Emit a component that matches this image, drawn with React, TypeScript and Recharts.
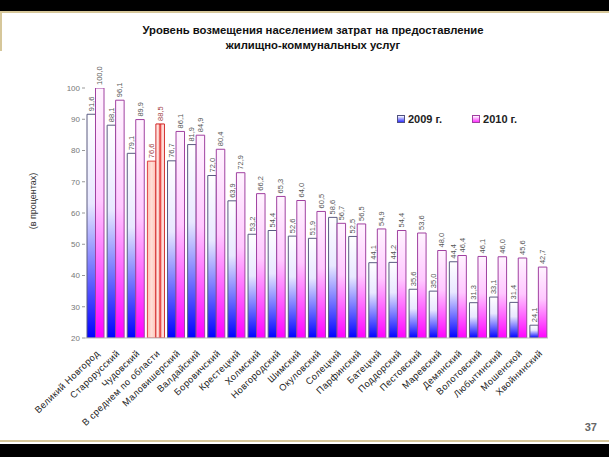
import React from "react";
import { BarChart, Bar, XAxis, YAxis, Cell, LabelList } from "recharts";

const categories = [
  "Великий Новгород",
  "Старорусский",
  "Чудовский",
  "В среднем по области",
  "Маловишерский",
  "Валдайский",
  "Боровичский",
  "Крестецкий",
  "Холмский",
  "Новгородский",
  "Шимский",
  "Окуловский",
  "Солецкий",
  "Парфинский",
  "Батецкий",
  "Поддорский",
  "Пестовский",
  "Маревский",
  "Демянский",
  "Волотовский",
  "Любытинский",
  "Мошенской",
  "Хвойнинский",
];

const values2009 = [
  91.6, 88.1, 79.1, 76.6, 76.7, 81.9, 72.0, 63.9, 53.2, 54.4, 52.6, 51.9, 58.6,
  52.5, 44.1, 44.2, 35.6, 35.0, 44.4, 31.3, 33.1, 31.4, 24.1,
];

const values2010 = [
  100.0, 96.1, 89.9, 88.5, 86.1, 84.9, 80.4, 72.9, 66.2, 65.3, 64.0, 60.5, 56.7,
  56.5, 54.9, 54.4, 53.6, 48.0, 46.4, 46.1, 46.0, 45.6, 42.7,
];

const yTicks = [20, 30, 40, 50, 60, 70, 80, 90, 100];

const AVG_INDEX = 3;
const FONT = "'Liberation Sans', Arial, sans-serif";

const data = categories.map((name, i) => ({
  name,
  v2009: values2009[i],
  v2010: values2010[i],
}));

const fmt = (v: number) => v.toFixed(1).replace(".", ",");

function ValueLabel(props: any) {
  const { x, y, width, value, index } = props;
  const cx = x + width / 2;
  const ty = y - 3;
  return (
    <text
      x={cx}
      y={ty}
      transform={`rotate(-90 ${cx} ${ty})`}
      textAnchor="start"
      dominantBaseline="central"
      fontSize={7.5}
      fontFamily={FONT}
      fill={index === AVG_INDEX ? "#a04040" : "#555"}
    >
      {fmt(value)}
    </text>
  );
}

function CategoryTick(props: any) {
  const { x, y, payload } = props;
  const ty = y + 6;
  return (
    <text
      x={x + 3}
      y={ty}
      transform={`rotate(-44 ${x + 3} ${ty})`}
      textAnchor="end"
      dominantBaseline="central"
      fontSize={9.3}
      letterSpacing={0.4}
      fontFamily={FONT}
      fill="#222"
    >
      {payload.value}
    </text>
  );
}

function LegendBox() {
  const item = (label: string, grad: string, border: string) => (
    <span
      style={{
        display: "inline-flex",
        alignItems: "center",
        gap: 3,
        marginRight: 30,
      }}
    >
      <span
        style={{
          display: "inline-block",
          width: 6,
          height: 6,
          background: grad,
          border: `1px solid ${border}`,
        }}
      />
      <span style={{ fontWeight: "bold", fontSize: 11, color: "#222" }}>
        {label}
      </span>
    </span>
  );
  return (
    <div
      style={{
        position: "absolute",
        left: 397,
        top: 113,
        display: "flex",
        fontFamily: FONT,
      }}
    >
      {item("2009 г.", "linear-gradient(#fff, #3030ff)", "#505080")}
      {item("2010 г.", "linear-gradient(#fff, #ff30ff)", "#a040a0")}
    </div>
  );
}

export default function App() {
  return (
    <div
      style={{
        position: "relative",
        width: 609,
        height: 457,
        background: "#fff",
        overflow: "hidden",
        fontFamily: FONT,
      }}
    >
      <style>{"body{margin:0}"}</style>
      {/* slide frame */}
      <div style={{ position: "absolute", left: 0, top: 0, width: 609, height: 11, background: "#000" }} />
      <div style={{ position: "absolute", left: 0, top: 11, width: 609, height: 2, background: "#d6c79a" }} />
      <div style={{ position: "absolute", left: 0, top: 11, width: 2, height: 40, background: "#d6c79a" }} />
      <div style={{ position: "absolute", left: 0, top: 440, width: 609, height: 2, background: "#d6c79a" }} />
      <div style={{ position: "absolute", left: 0, top: 444, width: 609, height: 13, background: "#000" }} />

      <div
        style={{
          position: "absolute",
          left: 0,
          top: 23,
          width: 626,
          textAlign: "center",
          fontWeight: "bold",
          fontSize: 11.3,
          lineHeight: "15px",
          color: "#111",
        }}
      >
        Уровень возмещения населением затрат на предоставление
        <br />
        жилищно-коммунальных услуг
      </div>

      <div
        style={{
          position: "absolute",
          right: 12,
          top: 421,
          fontSize: 11,
          fontWeight: "bold",
          color: "#666",
        }}
      >
        37
      </div>

      <LegendBox />

      <div style={{ position: "absolute", left: 0, top: 0 }}>
        <BarChart
          width={609}
          height={457}
          data={data}
          margin={{ top: 88, right: 61, bottom: 19, left: 45 }}
          barGap={0}
          barSize={8.5}
        >
          <defs>
            <linearGradient id="g2009" x1="0" y1="0" x2="0" y2="1">
              <stop offset="0" stopColor="#ffffff" />
              <stop offset="0.4" stopColor="#e8e8ff" />
              <stop offset="1" stopColor="#0000ff" />
            </linearGradient>
            <linearGradient id="g2010" x1="0" y1="0" x2="0" y2="1">
              <stop offset="0" stopColor="#fff4ff" />
              <stop offset="0.45" stopColor="#ffc8ff" />
              <stop offset="1" stopColor="#ff00ff" />
            </linearGradient>
            <linearGradient id="avg2009" x1="0" y1="0" x2="1" y2="0">
              <stop offset="0" stopColor="#ffc0b4" />
              <stop offset="0.5" stopColor="#ffe0d8" />
              <stop offset="1" stopColor="#ffc0b4" />
            </linearGradient>
            <linearGradient id="avg2010" x1="0" y1="0" x2="1" y2="0">
              <stop offset="0" stopColor="#ffffff" />
              <stop offset="0.3" stopColor="#ffd0c8" />
              <stop offset="0.5" stopColor="#e02828" />
              <stop offset="0.7" stopColor="#ffd0c8" />
              <stop offset="1" stopColor="#ffffff" />
            </linearGradient>
          </defs>
          <XAxis
            dataKey="name"
            interval={0}
            height={100}
            tick={<CategoryTick />}
            tickLine={false}
            axisLine={{ stroke: "#bbb" }}
          />
          <YAxis
            domain={[20, 100]}
            ticks={yTicks}
            width={40}
            allowDataOverflow
            axisLine={false}
            tickLine={{ stroke: "#999" }}
            tickSize={3}
            tick={{ fontSize: 8, fill: "#777", fontFamily: FONT }}
            label={{
              value: "(в процентах)",
              angle: -90,
              position: "insideLeft",
              dx: -17,
              dy: -12,
              style: { fontSize: 9, fill: "#333", fontFamily: FONT, textAnchor: "middle" },
            }}
          />
          <Bar dataKey="v2009" fill="url(#g2009)" stroke="#5a5a80" strokeWidth={1} isAnimationActive={false}>
            {data.map((_, i) => (
              <Cell
                key={i}
                fill={i === AVG_INDEX ? "url(#avg2009)" : "url(#g2009)"}
                stroke={i === AVG_INDEX ? "#e04040" : "#5a5a80"}
              />
            ))}
            <LabelList dataKey="v2009" content={<ValueLabel />} />
          </Bar>
          <Bar dataKey="v2010" fill="url(#g2010)" stroke="#a040a0" strokeWidth={1} isAnimationActive={false}>
            {data.map((_, i) => (
              <Cell
                key={i}
                fill={i === AVG_INDEX ? "url(#avg2010)" : "url(#g2010)"}
                stroke={i === AVG_INDEX ? "#d02020" : "#a040a0"}
              />
            ))}
            <LabelList dataKey="v2010" content={<ValueLabel />} />
          </Bar>
        </BarChart>
      </div>
    </div>
  );
}
